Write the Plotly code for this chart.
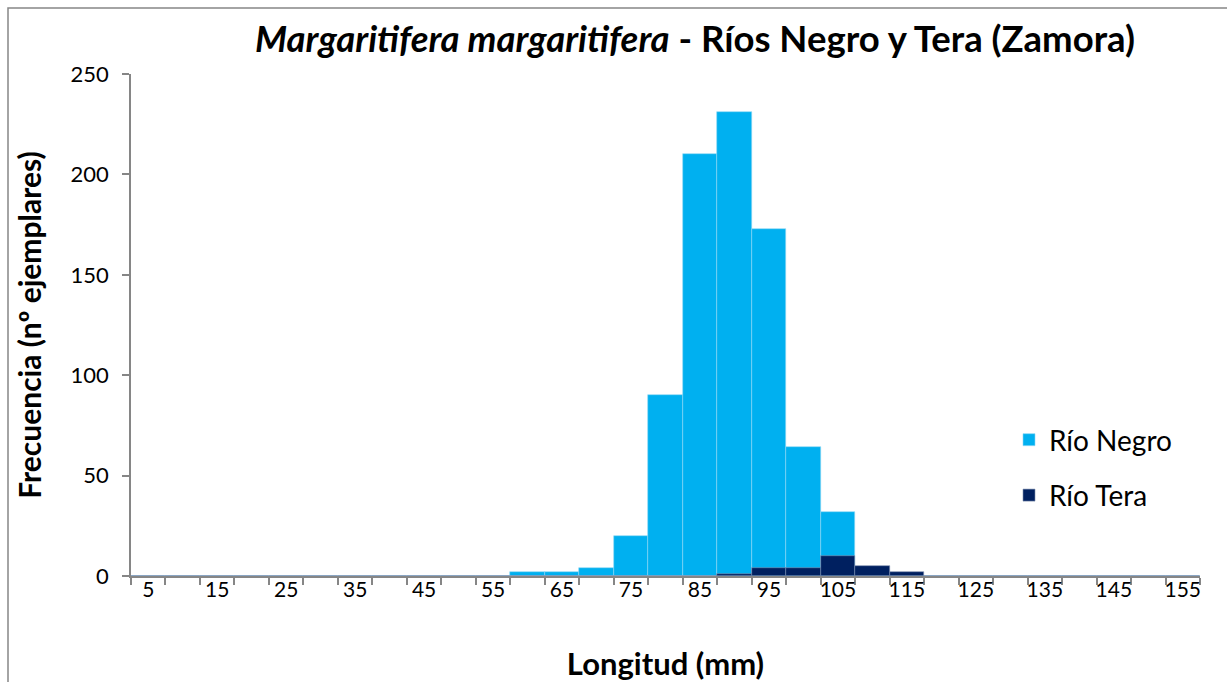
import plotly.graph_objects as go

categories = [5, 10, 15, 20, 25, 30, 35, 40, 45, 50, 55, 60, 65, 70, 75, 80,
              85, 90, 95, 100, 105, 110, 115, 120, 125, 130, 135, 140, 145, 150, 155]
rio_negro = [0, 0, 0, 0, 0, 0, 0, 0, 0, 0, 0, 2, 2, 4, 20, 90,
             210, 231, 173, 64, 32, 0, 0, 0, 0, 0, 0, 0, 0, 0, 0]
rio_tera = [0, 0, 0, 0, 0, 0, 0, 0, 0, 0, 0, 0, 0, 0, 0, 0,
            0, 1, 4, 4, 10, 5, 2, 0, 0, 0, 0, 0, 0, 0, 0]
tick_labels = [5, 15, 25, 35, 45, 55, 65, 75, 85, 95, 105, 115, 125, 135, 145, 155]
y_ticks = [0, 50, 100, 150, 200, 250]

FONT = "Lato"
L, R, T, B = 131, 27, 74, 106
W, H = 1227, 682
pw, ph = W - L - R, H - T - B

fig = go.Figure()
fig.add_trace(go.Bar(x=categories, y=rio_negro, name="Río Negro", width=5,
                     marker=dict(color="#00B0F0", line=dict(color="#8fd6f5", width=0.6)),
                     legendgroup="a"))
fig.add_trace(go.Bar(x=categories, y=rio_tera, name="Río Tera", width=5,
                     marker=dict(color="#002060", line=dict(color="#8090b0", width=0.6)),
                     legendgroup="b"))

def px_x(p):
    return (p - L) / pw

def px_y(p):
    return (H - B - p) / ph

fig.update_layout(
    width=W, height=H,
    barmode="overlay",
    bargap=0,
    paper_bgcolor="white", plot_bgcolor="white",
    margin=dict(l=L, r=R, t=T, b=B, pad=0),
    font=dict(family=FONT, color="black", size=21),
    title=dict(
        text="<b><i>Margaritifera margaritifera</i> - Ríos Negro y Tera (Zamora)</b>",
        x=px_x(695), xref="paper", xanchor="center",
        y=1 - 39 / H, yref="container", yanchor="middle",
        font=dict(family=FONT, size=36.5, color="black"),
    ),
    xaxis=dict(
        range=[2.5, 157.5],
        tickvals=tick_labels,
        ticktext=[str(v) for v in tick_labels],
        ticks="",
        ticklabelstandoff=-6,
        automargin=False,
        showline=True, linecolor="#868686", linewidth=2,
        showgrid=False, zeroline=False,
        tickfont=dict(family=FONT, size=21),
        minor=dict(ticks="outside", tick0=2.5, dtick=5, ticklen=7,
                   tickcolor="#868686", tickwidth=1.5, showgrid=False),
        title=dict(text="<b>Longitud (mm)</b>", font=dict(family=FONT, size=31), standoff=55),
        fixedrange=True,
    ),
    yaxis=dict(
        range=[0, 250],
        tickvals=y_ticks,
        ticks="outside", ticklen=7, tickcolor="#868686", tickwidth=1.5,
        ticklabelstandoff=9,
        automargin=False,
        showline=True, linecolor="#868686", linewidth=1.5,
        showgrid=False, zeroline=False,
        tickfont=dict(family=FONT, size=22),
        title=dict(text="<b>Frecuencia (nº ejemplares)</b>", font=dict(family=FONT, size=30), standoff=20),
    ),
    legend=dict(
        x=px_x(1009), y=px_y(415), xanchor="left", yanchor="top",
        font=dict(family=FONT, size=28),
        bgcolor="rgba(0,0,0,0)",
        traceorder="grouped", tracegroupgap=16,
        itemwidth=30,
    ),
    showlegend=True,
    shapes=[dict(type="rect", xref="paper", yref="paper",
                 x0=px_x(8), x1=px_x(1240), y0=px_y(700), y1=px_y(8),
                 line=dict(color="#868686", width=1.5), fillcolor="rgba(0,0,0,0)",
                 layer="below")],
)

fig.write_html("out.html")
